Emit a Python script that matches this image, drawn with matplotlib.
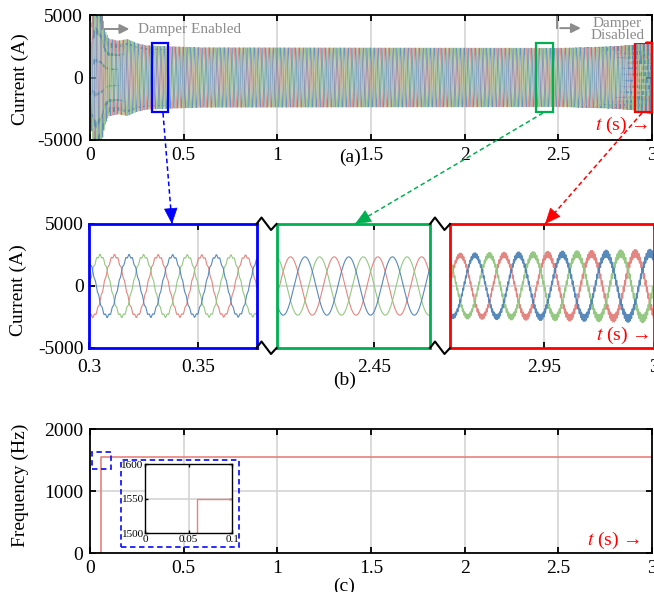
import numpy as np
import matplotlib
matplotlib.use("Agg")
import matplotlib.pyplot as plt
from matplotlib.patches import Rectangle, FancyArrowPatch, ArrowStyle
from matplotlib.lines import Line2D

plt.rcParams["font.family"] = ["Liberation Serif", "DejaVu Serif"]
plt.rcParams["mathtext.fontset"] = "stix"
plt.rcParams["axes.unicode_minus"] = False
plt.rcParams["xtick.direction"] = "in"
plt.rcParams["ytick.direction"] = "in"
plt.rcParams["xtick.top"] = True
plt.rcParams["ytick.right"] = True
plt.rcParams["axes.linewidth"] = 1.3

# ---- values ----
f_grid = 50.0                       # Hz, fundamental
env_t = [0.0, 0.01, 0.03, 0.06, 0.08, 0.10, 0.15, 0.20, 0.25, 0.30, 0.40, 2.50, 2.90, 3.00]
env_a = [0, 4500, 5800, 5000, 3400, 2800, 2700, 2900, 2600, 2450, 2400, 2350, 2450, 2650]
damp_t = [0.0, 0.02, 0.06, 0.10, 0.20, 0.30, 0.40, 0.60]     # 13th harmonic (650 Hz) ripple
damp_a = [0, 700, 500, 300, 160, 110, 90, 0]
unst_t = [0.0, 2.50, 2.80, 2.90, 3.00]                       # 31st harmonic (1550 Hz) ripple
unst_a = [0, 0, 60, 160, 320]
phase_shift = {"green": 0.0, "red": -2 * np.pi / 3, "blue": 2 * np.pi / 3}
phase_col = {"red": "#e2807a", "green": "#8fc67c", "blue": "#4f83b8"}

freq_t = [0.0, 0.06, 0.06, 3.0]
freq_hz = [0, 0, 1550, 1550]

zoom_windows = [(0.3, 0.3767), (2.4055, 2.4755), (2.907, 3.0)]
zoom_ticks = [[0.3, 0.35], [2.45], [2.95, 3.0]]
zoom_ticklabels = [["0.3", "0.35"], ["2.45"], ["2.95", "3"]]
zoom_colors = ["#0000ff", "#00b050", "#ff0000"]
box_t = [(0.329, 0.418), (2.381, 2.470), (2.910, 3.0)]

W, H = 654, 592


def fx(x):
    return x / W


def fy(y):
    return 1 - y / H


def current(t, shift):
    a = np.interp(t, env_t, env_a)
    d = np.interp(t, damp_t, damp_a)
    u = np.interp(t, unst_t, unst_a)
    th = 2 * np.pi * f_grid * t + shift
    return a * np.sin(th) + d * np.sin(13 * th) + u * np.sin(31 * th)


fig = plt.figure(figsize=(W / 100, H / 100), dpi=100)
grid_kw = dict(color="#d4d4d4", lw=1.2, zorder=0)
red_txt = dict(color="red", fontsize=14, ha="right", va="center")

# ---------------- (a) ----------------
ax1 = fig.add_axes([fx(90), fy(140), fx(562), 125 / H])
t = np.linspace(0, 3, 60001)
for name in ["red", "green", "blue"]:
    ax1.plot(t, current(t, phase_shift[name]), color=phase_col[name], lw=0.5, alpha=0.85)
ax1.set_xlim(0, 3)
ax1.set_ylim(-5000, 5000)
ax1.set_xticks([0, 0.5, 1, 1.5, 2, 2.5, 3])
ax1.set_xticklabels(["0", "0.5", "1", "1.5", "2", "2.5", "3"])
ax1.set_yticks([-5000, 0, 5000])
for xv in [0.5, 1, 1.5, 2, 2.5]:
    ax1.axvline(xv, **grid_kw)
ax1.tick_params(labelsize=14, pad=5, length=4, width=1.3)
for (t0, t1), c in zip(box_t, zoom_colors):
    ax1.add_patch(Rectangle((t0, -2780), t1 - t0, 5560, fill=False, ec=c, lw=1.6,
                            clip_on=False, zorder=5))
# damper annotations
gray = "#8c8c8c"
ax1.plot([0.064, 0.064], [5000, 3880], color=gray, lw=1.4, clip_on=False)
ax1.annotate("", xy=(0.225, 3880), xytext=(0.064, 3880),
             arrowprops=dict(arrowstyle="-|>", color=gray, lw=1.4, mutation_scale=14))
ax1.text(0.258, 3880, "Damper Enabled", color=gray, fontsize=11, va="center", ha="left")
ax1.plot([2.495, 2.495], [5000, 3950], color=gray, lw=1.4, clip_on=False)
ax1.annotate("", xy=(2.635, 3950), xytext=(2.495, 3950),
             arrowprops=dict(arrowstyle="-|>", color=gray, lw=1.4, mutation_scale=14))
ax1.text(2.814, 3850, "Damper\nDisabled", color=gray, fontsize=11, va="center", ha="center",
         linespacing=0.95, zorder=6,
         bbox=dict(facecolor="white", edgecolor="none", pad=0.5))
ax1.text(2.98, -3850, r"$t$ (s) →", **red_txt)
fig.text(fx(20), fy(79), "Current (A)", rotation=90, ha="center", va="center", fontsize=14)
fig.text(fx(350), fy(157), "(a)", ha="center", va="center", fontsize=14)

# ---------------- (b) ----------------
b_px = [(89, 256.5), (277, 430), (450, 653.5)]
axes_b = []
for i, ((p0, p1), (w0, w1)) in enumerate(zip(b_px, zoom_windows)):
    ax = fig.add_axes([fx(p0), fy(348), fx(p1 - p0), 124 / H])
    tt = np.linspace(w0, w1, 6000)
    for name in ["red", "green", "blue"]:
        ax.plot(tt, current(tt, phase_shift[name]), color=phase_col[name],
                lw=0.8 if i < 2 else 1.0, alpha=0.95)
    ax.set_xlim(w0, w1)
    ax.set_ylim(-5000, 5000)
    ax.set_xticks(zoom_ticks[i])
    ax.set_xticklabels(zoom_ticklabels[i])
    for xv in zoom_ticks[i]:
        ax.axvline(xv, **grid_kw)
    ax.axhline(0, **grid_kw)
    if i == 0:
        ax.set_yticks([-5000, 0, 5000])
        ax.tick_params(axis="y", right=False)
    else:
        ax.set_yticks([])
    ax.tick_params(labelsize=14, length=4, width=1.3)
    ax.tick_params(axis="x", pad=8)
    for s in ax.spines.values():
        s.set_color(zoom_colors[i])
        s.set_linewidth(2)
    axes_b.append(ax)
axes_b[2].text(0.98, 0.1, r"$t$ (s) →", transform=axes_b[2].transAxes, **red_txt)
fig.text(fx(18), fy(290), "Current (A)", rotation=90, ha="center", va="center", fontsize=14)
fig.text(fx(345), fy(380), "(b)", ha="center", va="center", fontsize=14)

# break marks between zoom windows
for x0 in [256.5, 430]:
    for y0 in [224, 348]:
        xs = [x0, x0 + 5, x0 + 14.5, x0 + 20]
        ys = [y0, y0 - 6.5, y0 + 6, y0]
        fig.add_artist(Line2D([fx(v) for v in xs], [fy(v) for v in ys], color="black", lw=1.5))

# dashed connectors (a) -> (b)
conn = [((163, 113), (172, 224)), ((543, 113), (355, 224)), ((642, 113), (545, 224))]
conn_cols = ["#0000ff", "#00b050", "#ff0000"]
for (p, q), c in zip(conn, conn_cols):
    fig.add_artist(Line2D([fx(p[0]), fx(q[0])], [fy(p[1]), fy(q[1])], color=c, lw=1.1,
                          dashes=(3, 2)))
    dx, dy = q[0] - p[0], q[1] - p[1]
    n = np.hypot(dx, dy)
    start = (q[0] - dx / n * 14, q[1] - dy / n * 14)
    fig.add_artist(FancyArrowPatch((fx(start[0]), fy(start[1])), (fx(q[0]), fy(q[1])),
                                   transform=fig.transFigure, color=c, lw=0.5,
                                   arrowstyle=ArrowStyle("-|>", head_length=0.7, head_width=0.3),
                                   mutation_scale=15, shrinkA=0, shrinkB=0))

# ---------------- (c) ----------------
ax3 = fig.add_axes([fx(90), fy(553), fx(562), 124 / H])
ax3.plot(freq_t, freq_hz, color="#e8827e", lw=1.2)
ax3.set_xlim(0, 3)
ax3.set_ylim(0, 2000)
ax3.set_xticks([0, 0.5, 1, 1.5, 2, 2.5, 3])
ax3.set_xticklabels(["0", "0.5", "1", "1.5", "2", "2.5", "3"])
ax3.set_yticks([0, 1000, 2000])
for xv in [0.5, 1, 1.5, 2, 2.5]:
    ax3.axvline(xv, **grid_kw)
ax3.axhline(1000, **grid_kw)
ax3.tick_params(labelsize=14, pad=5, length=4, width=1.3)
ax3.add_patch(Rectangle((0.012, 1360), 0.098, 265, fill=False, ec="#1a1aff", lw=1.3,
                        ls=(0, (3, 2)), zorder=5))
ax3.text(0.98, 0.1, r"$t$ (s) →", transform=ax3.transAxes, **red_txt)
fig.text(fx(20), fy(485), "Frequency (Hz)", rotation=90, ha="center", va="center", fontsize=14)
fig.text(fx(344), fy(586), "(c)", ha="center", va="center", fontsize=14)

# inset
fig.add_artist(Rectangle((fx(120.7), fy(546.7)), fx(118.6), 86.7 / H, fill=False,
                         ec="#1a1aff", lw=1.3, ls=(0, (3, 2)), transform=fig.transFigure,
                         zorder=10))
axi = fig.add_axes([fx(145), fy(533.3), fx(87.3), 69 / H])
axi.plot(freq_t, freq_hz, color="#e8827e", lw=1.0)
axi.set_xlim(0, 0.1)
axi.set_ylim(1500, 1600)
axi.set_xticks([0, 0.05, 0.1])
axi.set_xticklabels(["0", "0.05", "0.1"])
axi.set_yticks([1500, 1550, 1600])
axi.axvline(0.05, **grid_kw)
axi.axhline(1550, **grid_kw)
axi.tick_params(labelsize=8, pad=1, length=2, width=1)
for s in axi.spines.values():
    s.set_linewidth(1)

fig.savefig("out.png", dpi=100)
